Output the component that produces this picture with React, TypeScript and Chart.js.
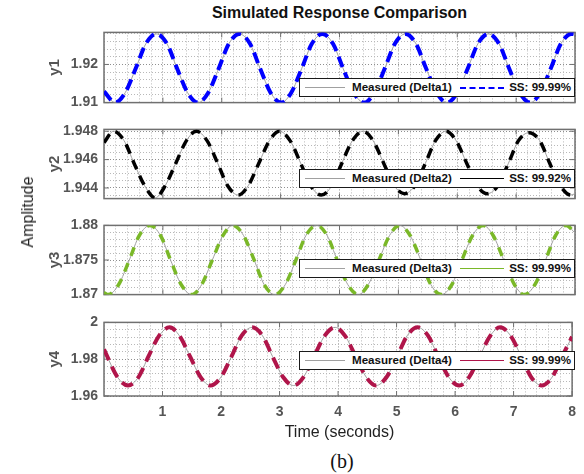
import React, { useEffect, useRef } from 'react';
import { Chart, registerables } from 'chart.js';

Chart.register(...registerables);

const FONT = '"Liberation Sans", Arial, Helvetica, sans-serif';
Chart.defaults.font.family = FONT;

// ---------- data ----------
const xTickLabels = [1, 2, 3, 4, 5, 6, 7, 8];

const y1TickLabels = ['1.91', '1.92'];
const y2TickLabels = ['1.944', '1.946', '1.948'];
const y3TickLabels = ['1.87', '1.875', '1.88'];
const y4TickLabels = ['1.96', '1.98', '2'];

const y1Time = [0, 0.19, 0.36, 0.54, 0.71, 0.89, 1.07, 1.24, 1.42, 1.6, 1.77, 1.95, 2.12, 2.3, 2.48, 2.65, 2.83, 3.01, 3.18, 3.36, 3.53, 3.71, 3.89, 4.06, 4.24, 4.42, 4.59, 4.77, 4.94, 5.12, 5.3, 5.47, 5.65, 5.83, 6.0, 6.18, 6.35, 6.53, 6.71, 6.88, 7.06, 7.24, 7.41, 7.59, 7.76, 7.94, 8.0];
const y1Measured = [1.9129,
  1.910, 1.9126, 1.919, 1.9254, 1.928, 1.9254, 1.919, 1.9126,
  1.910, 1.9126, 1.919, 1.9254, 1.928, 1.9254, 1.919, 1.9126,
  1.910, 1.9126, 1.919, 1.9254, 1.928, 1.9254, 1.919, 1.9126,
  1.910, 1.9126, 1.919, 1.9254, 1.928, 1.9254, 1.919, 1.9126,
  1.910, 1.9126, 1.919, 1.9254, 1.928, 1.9254, 1.919, 1.9126,
  1.910, 1.9126, 1.919, 1.9254, 1.928,
  1.9279];
const y1Simulated = y1Measured;

const y2Time = [0, 0.16, 0.34, 0.51, 0.69, 0.87, 1.04, 1.22, 1.4, 1.57, 1.75, 1.93, 2.1, 2.28, 2.45, 2.63, 2.81, 2.98, 3.16, 3.34, 3.51, 3.69, 3.87, 4.04, 4.22, 4.4, 4.57, 4.75, 4.93, 5.1, 5.28, 5.46, 5.63, 5.81, 5.98, 6.16, 6.34, 6.51, 6.69, 6.87, 7.04, 7.22, 7.4, 7.57, 7.75, 7.93, 8.0];
const y2Measured = [1.9472,
  1.948, 1.94734, 1.94575, 1.94416, 1.9433, 1.94416, 1.94575, 1.94734,
  1.948, 1.94734, 1.94575, 1.94416, 1.9435, 1.94416, 1.94575, 1.94734,
  1.948, 1.94734, 1.94575, 1.94416, 1.9435, 1.94416, 1.94575, 1.94734,
  1.948, 1.94734, 1.94575, 1.94416, 1.9436, 1.94416, 1.94575, 1.94734,
  1.948, 1.94734, 1.94575, 1.94416, 1.9436, 1.94416, 1.94575, 1.94734,
  1.9479, 1.94734, 1.94575, 1.94416, 1.9435,
  1.9436];
const y2Simulated = y2Measured;

const y3Time = [0, 0.07, 0.25, 0.43, 0.6, 0.78, 0.96, 1.13, 1.31, 1.49, 1.66, 1.84, 2.02, 2.19, 2.37, 2.55, 2.72, 2.9, 3.08, 3.26, 3.43, 3.61, 3.79, 3.96, 4.14, 4.32, 4.49, 4.67, 4.85, 5.02, 5.2, 5.38, 5.55, 5.73, 5.91, 6.08, 6.26, 6.44, 6.61, 6.79, 6.97, 7.14, 7.32, 7.5, 7.67, 7.85, 8.0];
const y3Measured = [1.8703,
  1.870, 1.87146, 1.875, 1.87854, 1.880, 1.87854, 1.875, 1.87146,
  1.870, 1.87146, 1.875, 1.87854, 1.880, 1.87854, 1.875, 1.87146,
  1.870, 1.87146, 1.875, 1.87854, 1.880, 1.87854, 1.875, 1.87146,
  1.870, 1.87146, 1.875, 1.87854, 1.880, 1.87854, 1.875, 1.87146,
  1.870, 1.87146, 1.875, 1.87854, 1.880, 1.87854, 1.875, 1.87146,
  1.870, 1.87146, 1.875, 1.87854, 1.880,
  1.8789];
const y3Simulated = y3Measured;

const y4Time = [0, 0.23, 0.41, 0.59, 0.76, 0.94, 1.12, 1.29, 1.47, 1.65, 1.82, 2.0, 2.18, 2.35, 2.53, 2.71, 2.88, 3.06, 3.24, 3.41, 3.59, 3.77, 3.95, 4.12, 4.3, 4.48, 4.65, 4.83, 5.01, 5.18, 5.36, 5.54, 5.71, 5.89, 6.07, 6.24, 6.42, 6.6, 6.77, 6.95, 7.13, 7.3, 7.48, 7.66, 7.83, 8.0];
const y4Measured = [1.9854, 1.9703,
  1.9657, 1.9703, 1.9815, 1.9927, 1.9973, 1.9927, 1.9815, 1.9703,
  1.9657, 1.9703, 1.9815, 1.9927, 1.9973, 1.9927, 1.9815, 1.9703,
  1.9657, 1.9703, 1.9815, 1.9927, 1.9973, 1.9927, 1.9815, 1.9703,
  1.9657, 1.9703, 1.9815, 1.9927, 1.9973, 1.9927, 1.9815, 1.9703,
  1.9657, 1.9703, 1.9815, 1.9927, 1.9973, 1.9927, 1.9815, 1.9703,
  1.9657, 1.9703, 1.9815,
  1.9922];
const y4Simulated = y4Measured;

const measuredLabels = ['Measured (Delta1)', 'Measured (Delta2)', 'Measured (Delta3)', 'Measured (Delta4)'];
const fitLabels = ['SS: 99.99%', 'SS: 99.92%', 'SS: 99.99%', 'SS: 99.99%'];
const axisNames = ['y1', 'y2', 'y3', 'y4'];

// ---------- styling / layout ----------
const TICK_COLOR = '#555555';
const FRAME_COLOR = '#707070';
const MAJOR_GRID = '#8f8f8f';
const MINOR_GRID = '#b8b8b8';
const MEASURED_COLOR = '#a0a0a0';
const PLOT_LEFT = 104;
const PLOT_RIGHT = 575;
const PAD = 10;

const panels = [
  { name: axisNames[0], time: y1Time, measured: y1Measured, simulated: y1Simulated, ticks: y1TickLabels,
    min: 1.91, max: 1.9284, minor: 0.002, top: 28, bottom: 107,
    color: '#0000ff', width: 4, dash: [11, 6], legendDash: 'dashed', legendTop: 78 },
  { name: axisNames[1], time: y2Time, measured: y2Measured, simulated: y2Simulated, ticks: y2TickLabels,
    min: 1.94325, max: 1.94813, minor: 0.0005, top: 125, bottom: 203,
    color: '#000000', width: 3.5, dash: [10, 7], legendDash: 'solid', legendTop: 169 },
  { name: axisNames[2], time: y3Time, measured: y3Measured, simulated: y3Simulated, ticks: y3TickLabels,
    min: 1.87, max: 1.88, minor: 0.001, top: 221, bottom: 299,
    color: '#7ab828', width: 3.5, dash: [9, 8], legendDash: 'solid', legendTop: 259 },
  { name: axisNames[3], time: y4Time, measured: y4Measured, simulated: y4Simulated, ticks: y4TickLabels,
    min: 1.96, max: 2.0, minor: 0.004, top: 318, bottom: 396,
    color: '#b0154a', width: 4, dash: [12, 7], legendDash: 'solid', legendTop: 351 },
];

function gridTicks(min: number, max: number, step: number) {
  const out: { value: number }[] = [];
  let i = Math.ceil(min / step - 1e-7);
  while (i * step <= max + 1e-9) {
    out.push({ value: parseFloat((i * step).toFixed(6)) });
    i++;
  }
  return out;
}

const near = (a: number, b: number) => Math.abs(a - b) < 1e-7;

const framePlugin = {
  id: 'frame',
  beforeDatasetsDraw(chart: any, _args: any, opts: any) {
    const { ctx, chartArea: a, scales } = chart;
    ctx.save();
    ctx.strokeStyle = FRAME_COLOR;
    ctx.lineWidth = 1;
    const L = 5;
    ctx.beginPath();
    for (const v of opts.xMajor) {
      const px = scales.x.getPixelForValue(v);
      ctx.moveTo(px, a.bottom); ctx.lineTo(px, a.bottom - L);
      ctx.moveTo(px, a.top); ctx.lineTo(px, a.top + L);
    }
    for (const v of opts.yMajor) {
      const py = scales.y.getPixelForValue(v);
      ctx.moveTo(a.left, py); ctx.lineTo(a.left + L, py);
      ctx.moveTo(a.right, py); ctx.lineTo(a.right - L, py);
    }
    ctx.stroke();
    ctx.lineWidth = 1.5;
    ctx.strokeRect(a.left, a.top, a.right - a.left, a.bottom - a.top);
    ctx.restore();
  },
};

function Panel({ p, showX }: { p: any; showX: boolean }) {
  const ref = useRef<HTMLCanvasElement>(null);
  const plotH = p.bottom - p.top;
  const xH = showX ? 30 : 0;
  const canvasH = PAD + plotH + (showX ? xH : PAD);

  useEffect(() => {
    const yMajor = p.ticks.map((t: string) => parseFloat(t));
    const chart = new Chart(ref.current as HTMLCanvasElement, {
      type: 'line',
      data: {
        datasets: [
          {
            label: 'Simulated',
            data: p.time.map((t: number, i: number) => ({ x: t, y: p.simulated[i] })),
            borderColor: p.color,
            borderWidth: p.width,
            borderDash: p.dash,
            pointRadius: 0,
            fill: false,
            cubicInterpolationMode: 'monotone',
          },
          {
            label: 'Measured',
            data: p.time.map((t: number, i: number) => ({ x: t, y: p.measured[i] })),
            borderColor: MEASURED_COLOR,
            borderWidth: 1,
            pointRadius: 0,
            fill: false,
            cubicInterpolationMode: 'monotone',
          },
        ],
      },
      options: {
        animation: false,
        responsive: false,
        layout: { padding: { top: PAD, bottom: showX ? 0 : PAD, left: 0, right: 584 - PLOT_RIGHT } },
        plugins: {
          legend: { display: false },
          tooltip: { enabled: false },
          frame: { xMajor: xTickLabels, yMajor },
        } as any,
        scales: {
          x: {
            type: 'linear',
            min: 0,
            max: 8,
            afterFit: (s: any) => { s.height = xH; },
            afterBuildTicks: (s: any) => { s.ticks = gridTicks(0, 8, 0.2); },
            ticks: {
              display: showX,
              autoSkip: false,
              maxRotation: 0,
              padding: 8,
              color: TICK_COLOR,
              font: { size: 14, weight: 'bold' },
              callback: (v: any) => {
                const lab = xTickLabels.find((t) => near(t, Number(v)));
                return lab !== undefined ? String(lab) : '';
              },
            },
            grid: {
              drawTicks: false,
              lineWidth: 1,
              color: (c: any) => (c.tick && xTickLabels.some((t) => near(t, c.tick.value)) ? MAJOR_GRID : MINOR_GRID),
            },
            border: { display: false, dash: [1, 2] },
          },
          y: {
            type: 'linear',
            min: p.min,
            max: p.max,
            afterFit: (s: any) => { s.width = PLOT_LEFT; },
            afterBuildTicks: (s: any) => { s.ticks = gridTicks(p.min, p.max, p.minor); },
            ticks: {
              autoSkip: false,
              padding: 6,
              color: TICK_COLOR,
              font: { size: 14, weight: 'bold' },
              callback: (v: any) => {
                const lab = p.ticks.find((t: string) => near(parseFloat(t), Number(v)));
                return lab !== undefined ? lab : '';
              },
            },
            grid: {
              drawTicks: false,
              lineWidth: 1,
              color: (c: any) => (c.tick && yMajor.some((t: number) => near(t, c.tick.value)) ? MAJOR_GRID : MINOR_GRID),
            },
            border: { display: false, dash: [1, 2] },
            title: {
              display: true,
              text: p.name,
              color: TICK_COLOR,
              font: { size: 15, weight: 'bold' },
              padding: { top: 46, bottom: 0 },
            },
          },
        },
      } as any,
      plugins: [framePlugin],
    });
    return () => chart.destroy();
  }, []);

  return (
    <canvas
      ref={ref}
      width={584}
      height={canvasH}
      style={{ position: 'absolute', left: 0, top: p.top - PAD, width: 584, height: canvasH }}
    />
  );
}

function LegendBox({ i, p }: { i: number; p: any }) {
  const text: React.CSSProperties = {
    position: 'absolute',
    top: 0,
    lineHeight: '16px',
    fontFamily: FONT,
    fontWeight: 'bold',
    fontSize: '11.6px',
    color: '#111',
    whiteSpace: 'nowrap',
  };
  return (
    <div
      style={{
        position: 'absolute',
        left: 299,
        top: p.legendTop,
        width: 276,
        height: 19,
        boxSizing: 'border-box',
        border: '1.5px solid #1a1a1a',
        background: '#fff',
      }}
    >
      <div style={{ position: 'absolute', left: 5, top: 8, width: 40, borderTop: `1px solid ${MEASURED_COLOR}` }} />
      <span style={{ ...text, left: 52 }}>{measuredLabels[i]}</span>
      <div
        style={{
          position: 'absolute',
          left: 160,
          top: 7.5,
          width: 44,
          borderTop: `${p.legendDash === 'dashed' ? 2 : 1.5}px ${p.legendDash} ${p.color}`,
        }}
      />
      <span style={{ ...text, right: 3 }}>{fitLabels[i]}</span>
    </div>
  );
}

export default function App() {
  return (
    <div style={{ position: 'absolute', left: 0, top: 0, width: 584, height: 474, background: '#fff', overflow: 'hidden' }}>
      <div
        style={{
          position: 'absolute', left: PLOT_LEFT, width: PLOT_RIGHT - PLOT_LEFT, top: 3, textAlign: 'center',
          fontFamily: FONT, fontWeight: 'bold', fontSize: 16, lineHeight: '20px', color: '#111',
        }}
      >
        Simulated Response Comparison
      </div>
      {panels.map((p, i) => (
        <Panel key={i} p={p} showX={i === panels.length - 1} />
      ))}
      {panels.map((p, i) => (
        <LegendBox key={'l' + i} i={i} p={p} />
      ))}
      <div
        style={{
          position: 'absolute', left: 28, top: 212, transform: 'translate(-50%, -50%) rotate(-90deg)',
          fontFamily: FONT, fontSize: 16, lineHeight: '20px', color: '#222', whiteSpace: 'nowrap',
        }}
      >
        Amplitude
      </div>
      <div
        style={{
          position: 'absolute', left: PLOT_LEFT, width: PLOT_RIGHT - PLOT_LEFT, top: 422, textAlign: 'center',
          fontFamily: FONT, fontSize: 16, lineHeight: '20px', color: '#222',
        }}
      >
        Time (seconds)
      </div>
      <div
        style={{
          position: 'absolute', left: 292, width: 100, top: 450, textAlign: 'center',
          fontFamily: '"Liberation Serif", "Times New Roman", serif', fontSize: 20, lineHeight: '22px', color: '#111',
        }}
      >
        (b)
      </div>
    </div>
  );
}
